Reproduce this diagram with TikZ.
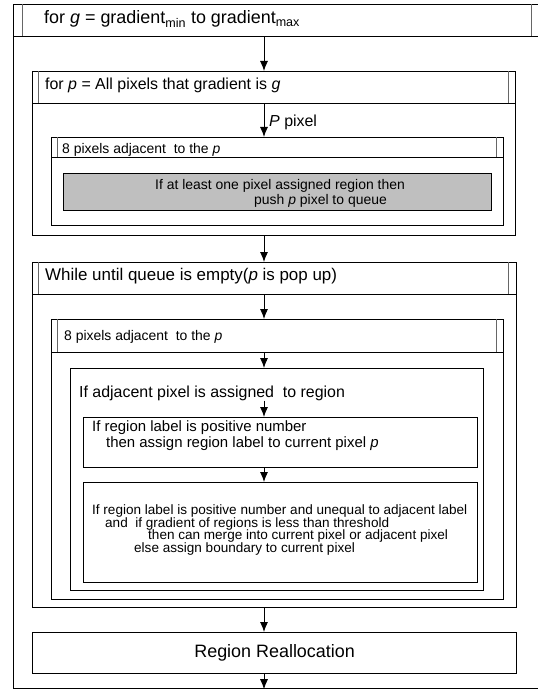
\documentclass[tikz,border=0pt]{standalone}
\usepackage{fontspec}
\setmainfont{Liberation Sans}
\usetikzlibrary{arrows.meta}
\tikzset{
  blk/.style={draw, line width=1.2pt, inner sep=0pt, anchor=north west},
  dbl/.style={line width=0.6pt, black!60},
  arr/.style={line width=0.9pt, -{Latex[length=10bp,width=8bp]}},
  txt/.style={anchor=base west, inner sep=0pt},
}
\newcommand{\fs}[1]{\fontsize{#1}{#1}\selectfont}
\begin{document}
\begin{tikzpicture}[x=1bp, y=-1bp]
    \useasboundingbox (0,0) rectangle (538,689);
    \coordinate (ax) at (264,0);
    \node[blk, minimum width=540bp, minimum height=684bp] (loopG) at (12.7,4) {};
    \node[blk, minimum width=540bp, minimum height=32bp] (hdrG) at (12.7,4) {};
    \draw[dbl] (22.7,4) -- (22.7,36) (531,4) -- (531,36);
    \node[txt] (hdrGt) at (44,24) {\fs{18}for \textit{g} = gradient\textsubscript{min} to gradient\textsubscript{max}};

    \node[blk, minimum width=483bp, minimum height=164bp] (forP) at (32,71) {};
    \node[blk, minimum width=483bp, minimum height=32bp] (forPh) at (32,71) {};
    \draw[dbl] (38,71) -- (38,103) (508,71) -- (508,103);
    \node[txt] (forPt) at (45,90) {\fs{16}for \textit{p} = All pixels that gradient is \textit{g}};
    \node[txt] (pPix) at (269,127) {\fs{16}\textit{P} pixel};
    \node[blk, minimum width=452bp, minimum height=88bp] (adjA) at (51,137) {};
    \node[blk, minimum width=452bp, minimum height=20bp] (adjAh) at (51,137) {};
    \draw[dbl] (57,137) -- (57,157) (496,137) -- (496,157);
    \node[txt] (adjAt) at (62,153) {\fs{14}8 pixels adjacent\ \ to the \textit{p}};
    \node[blk, fill=black!25, minimum width=428bp, minimum height=37bp] (push) at (63,173) {};
    \node[txt] (pushA) at (155,189) {\fs{14}If at least one pixel assigned region then};
    \node[txt] (pushB) at (254,204) {\fs{14}push \textit{p} pixel to queue};

    \node[blk, minimum width=484bp, minimum height=345bp] (whileB) at (32,262) {};
    \node[blk, minimum width=484bp, minimum height=32bp] (whileBh) at (32,262) {};
    \draw[dbl] (38,262) -- (38,294) (508,262) -- (508,294);
    \node[txt] (whileT) at (45,280) {\fs{17}While until queue is empty(\textit{p} is pop up)};
    \node[blk, minimum width=452bp, minimum height=280bp] (adjB) at (51,319) {};
    \node[blk, minimum width=452bp, minimum height=33bp] (adjBh) at (51,319) {};
    \draw[dbl] (57,319) -- (57,352) (496,319) -- (496,352);
    \node[txt] (adjBt) at (64,340) {\fs{14}8 pixels adjacent\ \ to the \textit{p}};
    \node[blk, minimum width=413bp, minimum height=222bp] (ifAdj) at (70,368) {};
    \node[txt] (ifAdjT) at (79,397) {\fs{16}If adjacent pixel is assigned\ \ to region};
    \node[blk, minimum width=394bp, minimum height=50bp] (labA) at (83,417) {};
    \node[txt] (labA1) at (92,431) {\fs{15}If region label is positive number};
    \node[txt] (labA2) at (106,447) {\fs{15}then assign region label to current pixel \textit{p}};
    \node[blk, minimum width=394bp, minimum height=100bp] (labB) at (83,482) {};
    \node[txt] (labB1) at (92,514) {\fs{13.6}If region label is positive number and unequal to adjacent label};
    \node[txt] (labB2) at (105,527) {\fs{13.6}and\ \ if gradient of regions is less than threshold};
    \node[txt] (labB3) at (148,539) {\fs{13.6}then can merge into current pixel or adjacent pixel};
    \node[txt] (labB4) at (134,552) {\fs{13.6}else assign boundary to current pixel};

    \node[blk, minimum width=484bp, minimum height=41bp] (realloc) at (32,632) {\fs{18}Region Reallocation};

    \draw[arr] (hdrG.south -| ax) -- (forP.north -| ax);
    \draw[arr] (forPh.south -| ax) -- (adjA.north -| ax);
    \draw[arr] (forP.south -| ax) -- (whileB.north -| ax);
    \draw[arr] (whileBh.south -| ax) -- (adjB.north -| ax);
    \draw[arr] (adjBh.south -| ax) -- (ifAdj.north -| ax);
    \draw[arr] (ifAdjT.south -| ax) -- (labA.north -| ax);
    \draw[arr] (labA.south -| ax) -- (labB.north -| ax);
    \draw[arr] (whileB.south -| ax) -- (realloc.north -| ax);
    \draw[arr] (realloc.south -| ax) -- (loopG.south -| ax);
\end{tikzpicture}
\end{document}
